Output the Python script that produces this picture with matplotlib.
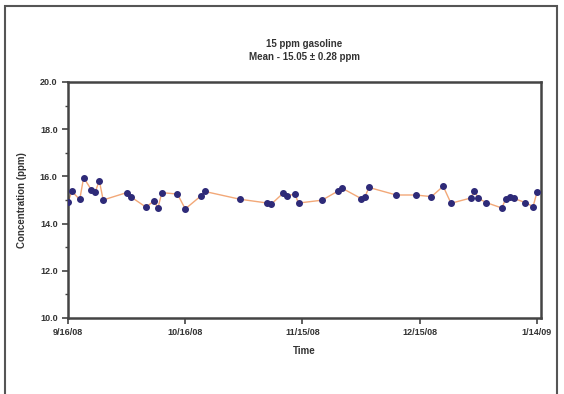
import datetime as dt
import matplotlib
matplotlib.use("Agg")
import matplotlib.pyplot as plt
import matplotlib.dates as mdates
from matplotlib.patches import Rectangle
from matplotlib.ticker import MultipleLocator, FormatStrFormatter

plt.rcParams['font.family'] = ['Liberation Sans', 'DejaVu Sans']
plt.rcParams['font.weight'] = 'bold'

# sample dates and measured concentration (ppm)
dates = ["2008-09-16", "2008-09-17", "2008-09-19", "2008-09-20", "2008-09-22",
         "2008-09-23", "2008-09-24", "2008-09-25", "2008-10-01", "2008-10-02",
         "2008-10-06", "2008-10-08", "2008-10-09", "2008-10-10", "2008-10-14",
         "2008-10-16", "2008-10-20", "2008-10-21", "2008-10-30", "2008-11-06",
         "2008-11-07", "2008-11-10", "2008-11-11", "2008-11-13", "2008-11-14",
         "2008-11-20", "2008-11-24", "2008-11-25", "2008-11-30", "2008-12-01",
         "2008-12-02", "2008-12-09", "2008-12-14", "2008-12-18", "2008-12-21",
         "2008-12-23", "2008-12-28", "2008-12-29", "2008-12-30", "2009-01-01",
         "2009-01-05", "2009-01-06", "2009-01-07", "2009-01-08", "2009-01-11",
         "2009-01-13", "2009-01-14"]
conc = [14.93, 15.36, 15.02, 15.95, 15.42, 15.35, 15.82, 15.00, 15.31, 15.14,
        14.69, 14.97, 14.65, 15.31, 15.25, 14.62, 15.17, 15.36, 15.03, 14.87,
        14.82, 15.28, 15.17, 15.25, 14.87, 14.99, 15.37, 15.51, 15.06, 15.14,
        15.53, 15.21, 15.21, 15.14, 15.58, 14.86, 15.08, 15.38, 15.07, 14.89,
        14.66, 15.04, 15.11, 15.07, 14.89, 14.72, 15.32]
tick_dates = ["2008-09-16", "2008-10-16", "2008-11-15", "2008-12-15", "2009-01-14"]

x = [dt.datetime.strptime(d, "%Y-%m-%d") for d in dates]
xt = [dt.datetime.strptime(d, "%Y-%m-%d") for d in tick_dates]

fig = plt.figure(figsize=(5.64, 3.94), dpi=100)
ax = fig.add_axes([0.1206, 0.193, 0.8384, 0.599])

# outer frame round the figure
fig.patches.append(Rectangle((5 / 564, -0.1), 552 / 564, 1.085, transform=fig.transFigure,
                             fill=False, edgecolor='#555555', linewidth=1.5))

ax.plot(x, conc, color='#f2a878', linewidth=1.0, zorder=2)
ax.plot(x, conc, linestyle='none', marker='o', markersize=4,
        markerfacecolor='#2e2a78', markeredgecolor='#2e2a78', zorder=3)

ax.set_xlim(xt[0], dt.datetime(2009, 1, 15))
ax.set_ylim(10, 20)
ax.set_xticks(xt)
ax.xaxis.set_major_formatter(mdates.DateFormatter("%-m/%-d/%y"))
ax.yaxis.set_major_locator(MultipleLocator(2))
ax.yaxis.set_minor_locator(MultipleLocator(1))
ax.yaxis.set_major_formatter(FormatStrFormatter("%.1f"))

for s in ax.spines.values():
    s.set_linewidth(1.8)
    s.set_color('#444444')
ax.tick_params(axis='both', which='major', direction='out', length=4, width=1.2,
               colors='#444444', labelsize=6.5, labelcolor='#333333')
ax.tick_params(axis='y', which='minor', direction='out', length=2.5, width=1.0,
               colors='#444444')

ax.set_xlabel("Time", fontsize=7, fontweight='bold', color='#333333', labelpad=6)
ax.set_ylabel("Concentration (ppm)", fontsize=7, fontweight='bold', color='#333333', labelpad=9)
ax.set_title("15 ppm gasoline\nMean - 15.05 \u00b1 0.28 ppm", fontsize=7,
             fontweight='bold', color='#333333', pad=16, linespacing=1.4)

fig.savefig("out.png", dpi=100)
